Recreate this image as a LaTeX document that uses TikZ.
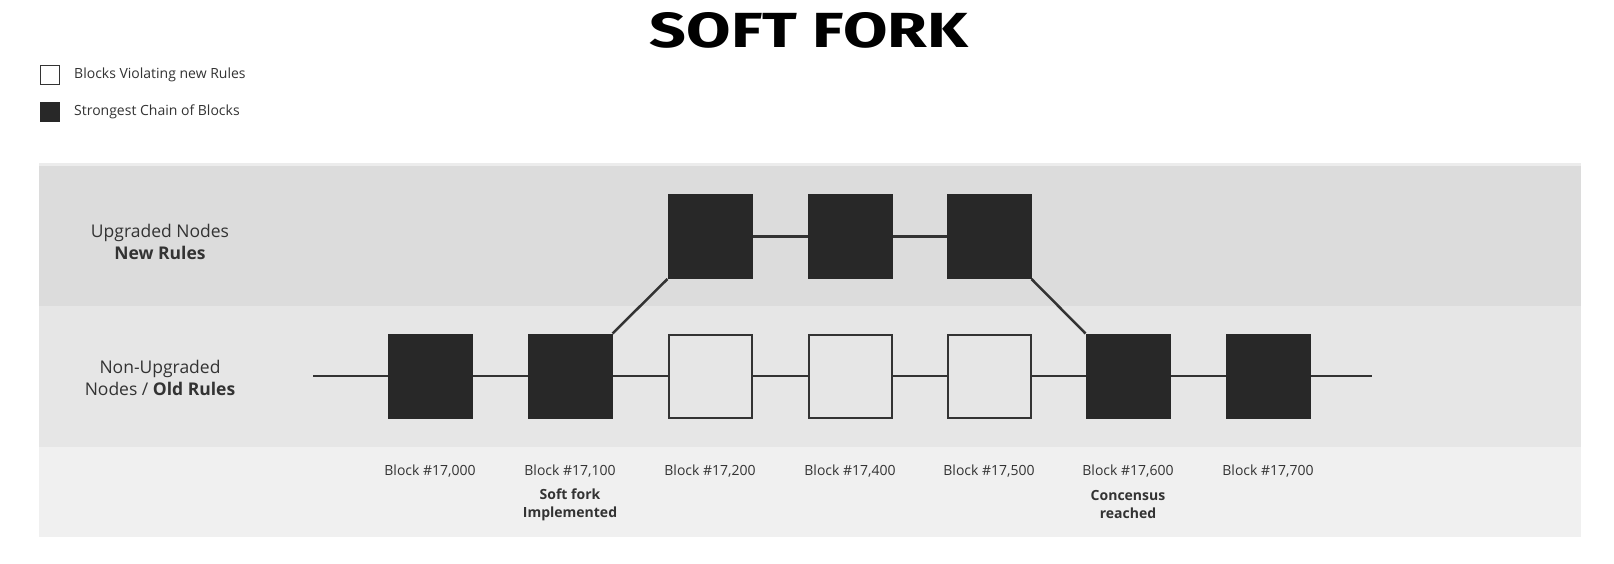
\documentclass[tikz,border=0pt]{standalone}
\usepackage{fontspec}
\usepackage{graphicx}
\setmainfont{Open Sans}
\newfontfamily\titlefont{Fira Sans}
\definecolor{bandA}{HTML}{DCDCDC}
\definecolor{bandB}{HTML}{E6E6E6}
\definecolor{bandC}{HTML}{F0F0F0}
\definecolor{bandTop}{HTML}{ECECEC}
\definecolor{blk}{HTML}{282828}
\definecolor{ln}{HTML}{333333}
\definecolor{txt}{HTML}{333333}
\tikzset{
  strongblock/.style={draw=blk, fill=blk, minimum size=83pt, inner sep=0pt, line width=2pt},
  weakblock/.style={draw=ln, fill=bandB, minimum size=83pt, inner sep=0pt, line width=2pt},
  conn/.style={draw=ln, line width=2.5pt},
  blocklabel/.style={text=txt, font=\fontsize{14}{17}\selectfont, inner sep=0pt},
  notelabel/.style={text=txt, font=\fontsize{14}{18}\selectfont\bfseries, align=center, inner sep=0pt},
  rowlabel/.style={text=txt, font=\fontsize{17.5}{22}\selectfont, align=center, inner sep=0pt},
  legendtext/.style={text=txt, font=\fontsize{14}{16}\selectfont, anchor=west, inner sep=0pt},
}
\begin{document}
\begin{tikzpicture}[x=1pt,y=-1pt]
\useasboundingbox (0,0) rectangle (1614,563);
\fill[white] (0,0) rectangle (1614,563);
% bands
\fill[bandC] (39,447) rectangle (1581,537);
\fill[bandB] (39,306) rectangle (1581,447);
\fill[bandA] (39,163) rectangle (1581,306);
\fill[bandTop] (39,163) rectangle (1581,166);
% title
\node[inner sep=0pt] (title) at (809,30) {\resizebox{318pt}{35pt}{\titlefont\bfseries SOFT FORK}};
% legend
\node[draw=ln, fill=white, line width=1.3pt, minimum size=19pt, inner sep=0pt] (legW) at (50,75) {};
\node[fill=blk, minimum size=20pt, inner sep=0pt] (legB) at (50,112) {};
\node[legendtext] (legWt) at (74,75) {Blocks Violating new Rules};
\node[legendtext] (legBt) at (74,112) {Strongest Chain of Blocks};
% row labels
\node[rowlabel] (rowU) at (160,242) {Upgraded Nodes\\\bfseries New Rules};
\node[rowlabel] (rowN) at (160,378) {Non-Upgraded\\Nodes / \bfseries Old Rules};
% lower row
\node[strongblock] (b1) at (430,376) {};
\node[strongblock] (b2) at (570,376) {};
\node[weakblock]   (b3) at (710,376) {};
\node[weakblock]   (b4) at (850,376) {};
\node[weakblock]   (b5) at (989,376) {};
\node[strongblock] (b6) at (1128,376) {};
\node[strongblock] (b7) at (1268,376) {};
% upper row
\node[strongblock] (u3) at (710,236.5) {};
\node[strongblock] (u4) at (850,236.5) {};
\node[strongblock] (u5) at (989,236.5) {};
% chain ends
\coordinate (lstart) at (313,376);
\coordinate (lend) at (1372,376);
% connectors
\draw[conn] (lstart) -- (b1.west);
\draw[conn] (b1.east) -- (b2.west);
\draw[conn] (b2.east) -- (b3.west);
\draw[conn] (b3.east) -- (b4.west);
\draw[conn] (b4.east) -- (b5.west);
\draw[conn] (b5.east) -- (b6.west);
\draw[conn] (b6.east) -- (b7.west);
\draw[conn] (b7.east) -- (lend);
\draw[conn] (b2.north east) -- (u3.south west);
\draw[conn] (u3.east) -- (u4.west);
\draw[conn] (u4.east) -- (u5.west);
\draw[conn] (u5.south east) -- (b6.north west);
% block labels
\node[blocklabel] (l1) at (430,471) {Block \#17,000};
\node[blocklabel] (l2) at (570,471) {Block \#17,100};
\node[blocklabel] (l3) at (710,471) {Block \#17,200};
\node[blocklabel] (l4) at (850,471) {Block \#17,400};
\node[blocklabel] (l5) at (989,471) {Block \#17,500};
\node[blocklabel] (l6) at (1128,471) {Block \#17,600};
\node[blocklabel] (l7) at (1268,471) {Block \#17,700};
\node[notelabel] (n2) at (570,505) {Soft fork\\Implemented};
\node[notelabel] (n6) at (1128,504) {Concensus\\reached};
\end{tikzpicture}
\end{document}
